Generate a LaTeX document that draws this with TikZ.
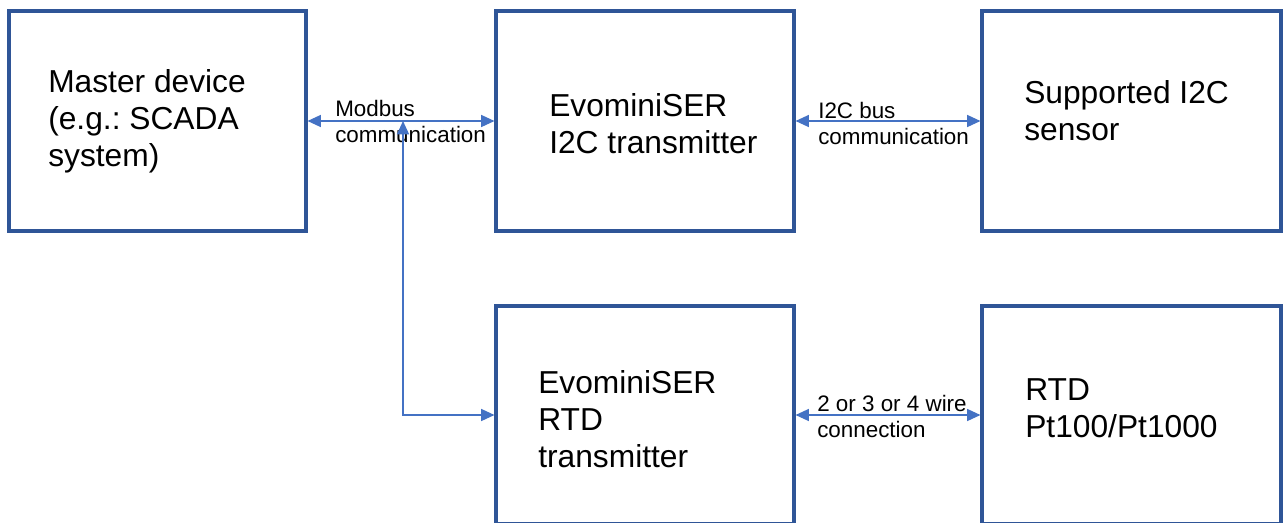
\documentclass[tikz,border=0pt]{standalone}
\usepackage{fontspec}
\setmainfont{Liberation Sans}
\usetikzlibrary{arrows.meta}
\frenchspacing
\definecolor{boxblue}{RGB}{47,85,151}
\definecolor{linkblue}{RGB}{68,114,196}
\tikzset{
  block/.style={draw=boxblue, line width=2.3pt, inner sep=0pt},
  link/.style={draw=linkblue, line width=1.1pt, {Triangle[length=10pt,width=9pt]}-{Triangle[length=10pt,width=9pt]}},
  bigtext/.style={anchor=north west, inner sep=0pt, align=left, font=\fontsize{23.8}{28}\selectfont},
  smalltext/.style={anchor=north west, inner sep=0pt, align=left, font=\fontsize{16.8}{19.5}\selectfont},
}

\begin{document}
\begin{tikzpicture}[x=0.75pt,y=0.75pt,yscale=-1,xscale=1]
\useasboundingbox (0,0) rectangle (1287,522);
\clip (0,0) rectangle (1287,522);

% Shape: Rectangle
\node [block, minimum width=222.75pt, minimum height=165pt] (master) at (157.5,121) {};
% Shape: Rectangle
\node [block, minimum width=223.5pt, minimum height=165pt] (i2ctx) at (645,121) {};
% Shape: Rectangle
\node [block, minimum width=224.25pt, minimum height=165pt] (sensor) at (1131.5,121) {};
% Shape: Rectangle
\node [block, minimum width=223.5pt, minimum height=163.5pt] (rtdtx) at (645,415) {};
% Shape: Rectangle
\node [block, minimum width=224.25pt, minimum height=163.5pt] (rtd) at (1131.5,415) {};

% Text Node
\node [bigtext] (mastertxt) at (48,69) {Master device\\(e.g.: SCADA\\system)};
% Text Node
\node [bigtext] (i2ctxtxt) at (549,93) {EvominiSER\\I2C transmitter};
% Text Node
\node [bigtext] (sensortxt) at (1024,80) {Supported I2C\\sensor};
% Text Node
\node [bigtext] (rtdtxtxt) at (538,370) {EvominiSER\\RTD\\transmitter};
% Text Node
\node [bigtext] (rtdtxt) at (1025,378) {RTD\\Pt100/Pt1000};

% Text Node
\node [smalltext] (modbustxt) at (335,100) {Modbus\\communication};
% Text Node
\node [smalltext] (bustxt) at (818,102) {I2C bus\\communication};
% Text Node
\node [smalltext] (wiretxt) at (817,395) {2 or 3 or 4 wire\\connection};

% Straight Lines
\draw [link] (master.east) -- (i2ctx.west);
\coordinate (tap) at (403,121);
\draw [link] (tap) |- (rtdtx.west);
\draw [link] (i2ctx.east) -- (sensor.west);
\draw [link] (rtdtx.east) -- (rtd.west);

\end{tikzpicture}
\end{document}
